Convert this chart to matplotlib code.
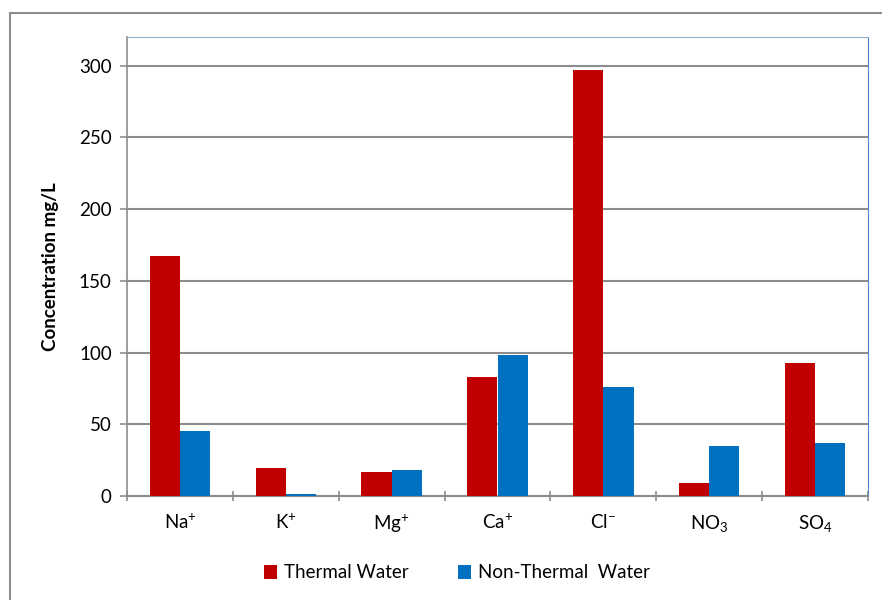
import matplotlib.pyplot as plt
import matplotlib.patches as mpatches
import numpy as np

plt.rcParams['font.family'] = ['Lato', 'DejaVu Sans']
plt.rcParams['mathtext.fontset'] = 'custom'
plt.rcParams['mathtext.rm'] = 'Lato'
plt.rcParams['mathtext.it'] = 'Lato'

# data
ions = ['Na$^{+}$', 'K$^{+}$', 'Mg$^{+}$', 'Ca$^{+}$', 'Cl$^{-}$', 'NO$_{3}$', 'SO$_{4}$']
thermal = [167, 19.5, 17, 83, 297, 9, 92.5]
non_thermal = [45.5, 1.5, 18, 98.5, 76, 35, 37]

red = '#C00000'
blue = '#0070C0'

fig = plt.figure(figsize=(8.82, 6), dpi=100)
ax = fig.add_axes([127/882, 104/600, 741/882, 459/600])

x = np.arange(len(ions))
w = 0.285
ax.bar(x - w/2, thermal, w, color=red, label='Thermal Water', zorder=3)
ax.bar(x + w/2, non_thermal, w, color=blue, label='Non-Thermal  Water', zorder=3)

ax.set_xlim(-0.5, len(ions) - 0.5)
ax.set_ylim(0, 320)
ax.set_yticks(range(0, 301, 50))
ax.yaxis.grid(True, color='#8c8c8c', linewidth=1.5, zorder=0)
ax.tick_params(axis='y', length=5, width=1.2, color='#8c8c8c', labelsize=13.5, pad=6)

# category labels centred, ticks on boundaries
ax.set_xticks(x)
ax.set_xticklabels(ions, fontsize=13.5)
ax.tick_params(axis='x', length=0, pad=12)
ax.set_xticks(np.arange(-0.5, len(ions)), minor=True)
ax.tick_params(axis='x', which='minor', length=7, width=1.2, color='#8c8c8c', direction='inout')

ax.set_ylabel('Concentration mg/L', fontsize=13.5, fontweight='bold', labelpad=14)

ax.spines['left'].set_color('#8c8c8c')
ax.spines['left'].set_linewidth(1.2)
ax.spines['bottom'].set_color('#8c8c8c')
ax.spines['bottom'].set_linewidth(1.5)
ax.spines['top'].set_color('#8fb0c8')
ax.spines['right'].set_color('#4f81d0')

fig.legend(loc='center', bbox_to_anchor=(0.518, 0.045), ncol=2, frameon=False,
           fontsize=13.5, handlelength=0.7, handleheight=0.7, columnspacing=2.6,
           handletextpad=0.4)

# outer chart border
fig.patches.append(mpatches.Rectangle((10/882, -0.1), 1.2, 1.1 - 13/600,
                                      transform=fig.transFigure, fill=False,
                                      edgecolor='#8c8c8c', linewidth=1.5))

fig.savefig('out.png', dpi=100)
